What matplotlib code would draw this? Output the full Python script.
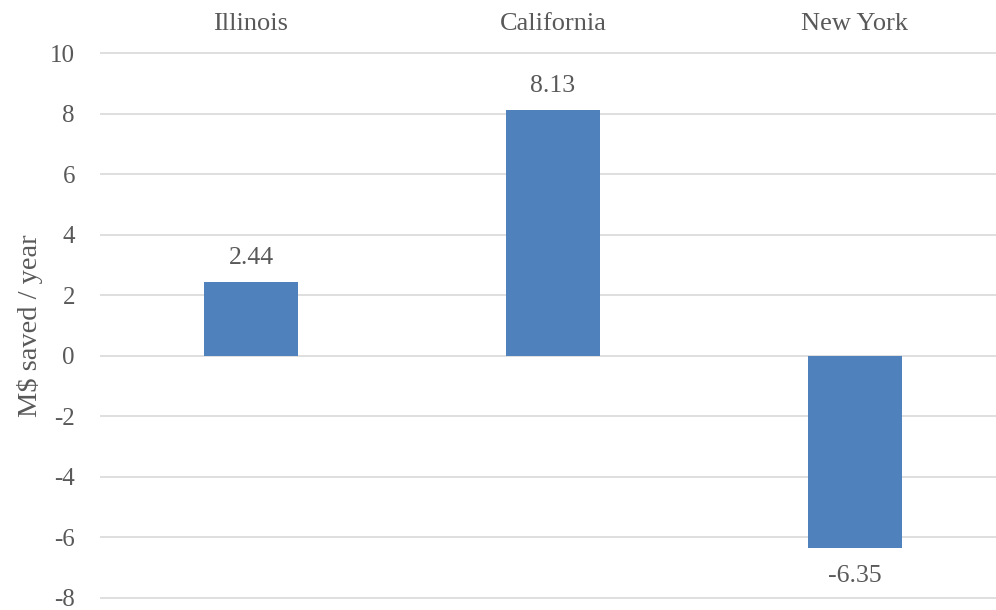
import numpy as np
import matplotlib.pyplot as plt

states = ['Illinois', 'California', 'New York']
savings = [2.44, 8.13, -6.35]
yticks = [-8, -6, -4, -2, 0, 2, 4, 6, 8, 10]

plt.rcParams['font.family'] = ['Liberation Serif', 'DejaVu Serif']
grey = '#595959'

fig = plt.figure(figsize=(9.96, 6.1), dpi=100)
ax = fig.add_axes([0.1004, 0.0175, 0.8996, 0.8977])

x = np.arange(len(states))
ax.bar(x, savings, width=0.31, color='#4F81BD', zorder=3)

for xi, v in zip(x, savings):
    if v >= 0:
        ax.text(xi, v + 0.8, f'{v:.2f}', ha='center', va='center', fontsize=18.5, color=grey)
    else:
        ax.text(xi, v - 0.92, f'{v:.2f}', ha='center', va='center', fontsize=18.5, color=grey)

ax.set_ylim(-8.05, 10.05)
ax.set_xlim(-0.5, 2.467)
ax.set_yticks(yticks)
ax.set_yticklabels([str(t) for t in yticks], fontsize=18, color=grey)
ax.tick_params(axis='y', length=0, pad=18)

ax.xaxis.tick_top()
ax.set_xticks(x)
ax.set_xticklabels(states, fontsize=19, color=grey)
ax.tick_params(axis='x', length=0, pad=12)

ax.grid(axis='y', color='#D9D9D9', linewidth=1.2, zorder=0)
for s in ax.spines.values():
    s.set_visible(False)

ax.set_ylabel('M$ saved / year', fontsize=20.5, color=grey, labelpad=5)

fig.savefig('out.png', dpi=100)
